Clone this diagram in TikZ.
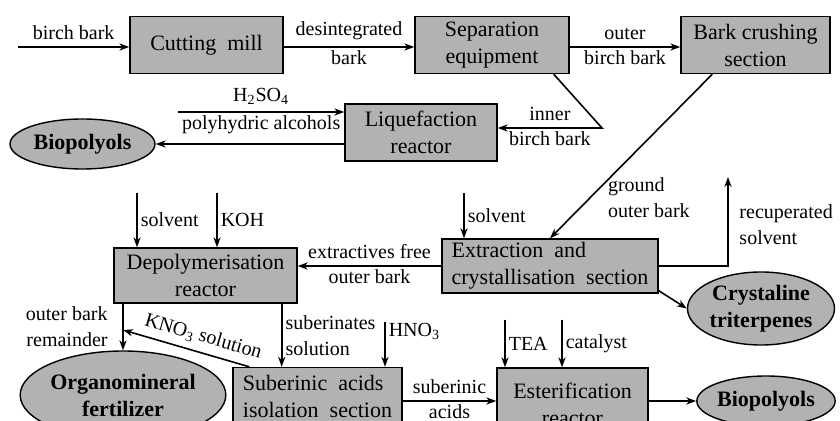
\documentclass[tikz,border=0pt]{standalone}
\usepackage{fontspec}
\setmainfont{Liberation Serif}
\usetikzlibrary{arrows.meta,shapes.geometric}

\begin{document}
\begin{tikzpicture}[x=0.5pt,y=-0.5pt,>={Stealth[length=5pt,width=3.6pt]},thick,
        font=\fontsize{10}{13}\selectfont,
        under/.style={below,inner sep=1.4pt},
        unit/.style={draw,fill=black!30,line width=0.7pt,minimum height=28.5pt,inner sep=1pt,
            align=center,font=\fontsize{11}{13.5}\selectfont},
        product/.style={ellipse,draw,fill=black!30,line width=0.7pt,inner sep=0pt,
            align=center,font=\fontsize{11}{13.5}\selectfont\bfseries}]
            \useasboundingbox (0,0) rectangle (840,421);
            \clip (0,0) rectangle (840,421);
            % process units
            \node[unit, minimum width=76.5pt] (cut)   at (206.5,45)  {Cutting\ \ mill};
            \node[unit, minimum width=77pt]   (sep)   at (492,45)    {Separation\\equipment};
            \node[unit, minimum width=74.5pt] (crush) at (755.5,45)  {Bark crushing\\section};
            \node[unit, minimum width=76pt]   (liq)   at (421,132.5) {Liquefaction\\reactor};
            \node[unit, minimum width=108pt, minimum height=27pt, align=left] (ext) at (550,266)
                {Extraction\ \ and\\crystallisation\ \ section};
            \node[unit, minimum width=91.5pt, minimum height=27.5pt] (dep) at (205.5,275.5)
                {Depolymerisation\\reactor};
            \node[unit, minimum width=84.5pt, align=left] (sub) at (317.5,396)
                {Suberinic\ \ acids\\isolation\ \ section};
            \node[unit, minimum width=75.5pt, minimum height=36pt] (est) at (572.5,404)
                {Esterification\\reactor};
            % products
            \node[product, minimum width=72.5pt, minimum height=25pt]   (bio1) at (82.5,144) {Biopolyols};
            \node[product, minimum width=73.5pt, minimum height=36.5pt] (tri)  at (761,308.5) {Crystaline\\triterpenes};
            \node[product, minimum width=97.5pt, minimum height=44pt]   (org)  at (123,395) {Organomineral\\fertilizer};
            \node[product, minimum width=69pt, minimum height=25pt]     (bio2) at (766,401) {Biopolyols};
            % free ends
            \coordinate (in1)   at (18,47);
            \coordinate (h2so4) at (178,112);
            \coordinate (bend)  at (602,128);
            \coordinate (recup) at (728,177);
            \coordinate (solvE) at (464,193);
            \coordinate (solvD) at (137,193);
            \coordinate (koh)   at (217,193);
            \coordinate (kno)   at (123,330);
            \coordinate (hno)   at (385,322);
            \coordinate (tea)   at (505,320);
            \coordinate (cat)   at (562,320);
            \path (dep.south east) ++(-8pt,0) coordinate (sbx);
            \path[->]
                (in1)
                    edge node[above] {birch bark} (in1 -| cut.west)
                (cut.east |- in1)
                    edge node[above] {desintegrated} node[under] {bark} (in1 -| sep.west)
                (sep.east |- in1)
                    edge node[above] {outer} node[under] {birch bark} (in1 -| crush.west)
                (h2so4)
                    edge node[above] {H\textsubscript{2}SO\textsubscript{4}} node[under] {polyhydric alcohols} (h2so4 -| liq.west)
                (liq.west |- bio1)
                    edge (bio1)
                (ext.west)
                    edge node[above] {extractives free} node[under] {outer bark} (ext.west -| dep.east)
                (sub.east |- bio2)
                    edge node[above] {suberinic} node[under] {acids} (est.west |- bio2)
                (est.east |- bio2)
                    edge (bio2);
            \draw[->] ([xshift=-8pt]sep.south east) -- (bend) -- (bend -| liq.east)
                node[midway,above] {inner} node[midway,under] {birch bark};
            \draw[->] ([xshift=16pt]crush.south west) -- (ext.north)
                node[pos=0.75,anchor=west,xshift=5pt,align=left] {ground\\outer bark};
            \draw[->] (ext.east) -| (recup)
                node[pos=0.73,right,xshift=2pt,align=left] {recuperated\\solvent};
            \draw[->] (solvE) -- (solvE |- ext.north) node[midway,right,inner sep=1.5pt] {solvent};
            \draw[->] ([yshift=1.5pt]ext.south east) -- (tri.west);
            \draw[->] (solvD) -- (solvD |- dep.north) node[midway,right,inner sep=1.5pt] {solvent};
            \draw[->] (koh) -- (koh |- dep.north) node[midway,right,inner sep=1.5pt] {KOH};
            \draw[->] (dep.south -| org.north) -- (org.north)
                node[midway,left,xshift=-4pt,align=right] {outer bark\\remainder};
            \draw[->] ([xshift=8.5pt]sub.north west) -- (kno)
                node[pos=0.4,sloped,above] {KNO\textsubscript{3} solution};
            \draw[->] (sbx) -- (sbx |- sub.north)
                node[midway,right,inner sep=1.5pt,align=left] {suberinates\\solution};
            \draw[->] (hno) -- (hno |- sub.north) node[pos=0.2,right,inner sep=1.5pt] {HNO\textsubscript{3}};
            \draw[->] (tea) -- (tea |- est.north) node[midway,right,inner sep=1.5pt] {TEA};
            \draw[->] (cat) -- (cat |- est.north) node[midway,right,inner sep=1.5pt] {catalyst};
        \end{tikzpicture}
\end{document}
